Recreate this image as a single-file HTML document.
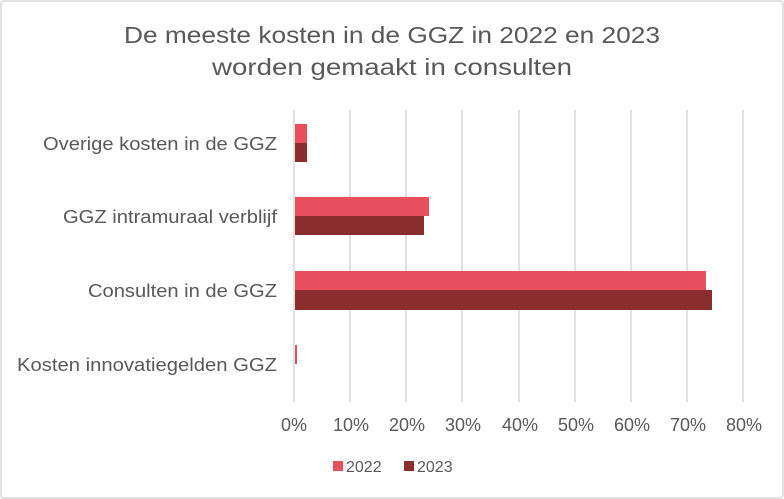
<!DOCTYPE html>
<html><head><meta charset="utf-8"><style>
html,body{margin:0;padding:0;background:#fff;}
svg{display:block;font-family:"Liberation Sans",sans-serif;}
</style></head><body>
<svg width="784" height="499" viewBox="0 0 784 499">
<rect x="1" y="1" width="782" height="497" rx="3" fill="#fff" stroke="#d9d9d9" stroke-width="1.5"/>
<g fill="#595959" font-size="23" text-anchor="middle">
<text x="392" y="43" textLength="536" lengthAdjust="spacingAndGlyphs">De meeste kosten in de GGZ in 2022 en 2023</text>
<text x="392" y="75" textLength="360" lengthAdjust="spacingAndGlyphs">worden gemaakt in consulten</text>
</g>
<g stroke="#d9d9d9" stroke-width="1.5">
<line x1="294" y1="110" x2="294" y2="402"/>
<line x1="350" y1="110" x2="350" y2="402"/>
<line x1="406" y1="110" x2="406" y2="402"/>
<line x1="462" y1="110" x2="462" y2="402"/>
<line x1="519" y1="110" x2="519" y2="402"/>
<line x1="575" y1="110" x2="575" y2="402"/>
<line x1="631" y1="110" x2="631" y2="402"/>
<line x1="687" y1="110" x2="687" y2="402"/>
<line x1="743" y1="110" x2="743" y2="402"/>
</g>
<g fill="#E8505F">
<rect x="295" y="124" width="12" height="19"/>
<rect x="295" y="197" width="134" height="19"/>
<rect x="295" y="271" width="411" height="19"/>
<rect x="295" y="345" width="2" height="19"/>
</g>
<g fill="#8B2C2F">
<rect x="295" y="143" width="12" height="19"/>
<rect x="295" y="216" width="129" height="19"/>
<rect x="295" y="290" width="417" height="20"/>
</g>
<g fill="#595959" font-size="18">
<text x="43" y="150" textLength="234" lengthAdjust="spacingAndGlyphs">Overige kosten in de GGZ</text>
<text x="63" y="223" textLength="214" lengthAdjust="spacingAndGlyphs">GGZ intramuraal verblijf</text>
<text x="88" y="297" textLength="189" lengthAdjust="spacingAndGlyphs">Consulten in de GGZ</text>
<text x="17" y="371" textLength="260" lengthAdjust="spacingAndGlyphs">Kosten innovatiegelden GGZ</text>
</g>
<g fill="#595959" font-size="18" text-anchor="middle">
<text x="294" y="431">0%</text>
<text x="351" y="431">10%</text>
<text x="407" y="431">20%</text>
<text x="463" y="431">30%</text>
<text x="520" y="431">40%</text>
<text x="576" y="431">50%</text>
<text x="632" y="431">60%</text>
<text x="688" y="431">70%</text>
<text x="744" y="431">80%</text>
</g>
<rect x="333" y="461" width="10" height="10" fill="#E8505F"/>
<text x="346" y="472" fill="#595959" font-size="16">2022</text>
<rect x="404" y="461" width="10" height="10" fill="#8B2C2F"/>
<text x="417" y="472" fill="#595959" font-size="16">2023</text>
</svg>
</body></html>
